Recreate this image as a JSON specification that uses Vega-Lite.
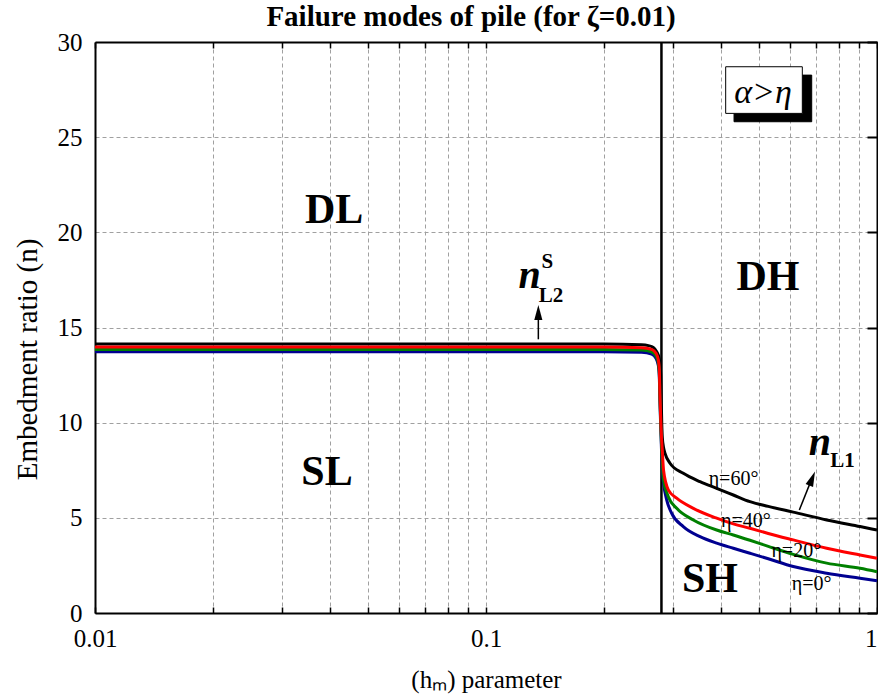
{
  "$schema": "https://vega.github.io/schema/vega-lite/v6.json",
  "width": 782,
  "height": 571,
  "autosize": {"type": "none"},
  "padding": {"left": 95, "top": 42, "right": 1, "bottom": 84},
  "background": "white",
  "title": {"text": "Failure modes of pile (for ζ=0.01)", "fontSize": 29, "fontWeight": "bold", "font": "Liberation Serif", "color": "black", "offset": -2, "dx": -15},
  "config": {"font": "Liberation Serif", "view": {"stroke": null}},
  "resolve": {"axis": {"x": "independent", "y": "independent"}},
  "datasets": {
    "curves": [
      {"eta": "η=60°", "x": 0.01, "n": 14.13}, {"eta": "η=60°", "x": 0.1, "n": 14.13}, {"eta": "η=60°", "x": 0.2, "n": 14.13}, {"eta": "η=60°", "x": 0.25, "n": 14.1}, {"eta": "η=60°", "x": 0.2602, "n": 14.05}, {"eta": "η=60°", "x": 0.2678, "n": 13.95}, {"eta": "η=60°", "x": 0.2732, "n": 13.73}, {"eta": "η=60°", "x": 0.2775, "n": 13.35}, {"eta": "η=60°", "x": 0.2798, "n": 12.5}, {"eta": "η=60°", "x": 0.2808, "n": 11}, {"eta": "η=60°", "x": 0.2815, "n": 10}, {"eta": "η=60°", "x": 0.2825, "n": 9.2}, {"eta": "η=60°", "x": 0.2845, "n": 8.7}, {"eta": "η=60°", "x": 0.287, "n": 8.39}, {"eta": "η=60°", "x": 0.2955, "n": 7.87}, {"eta": "η=60°", "x": 0.3196, "n": 7.34}, {"eta": "η=60°", "x": 0.3527, "n": 6.9}, {"eta": "η=60°", "x": 0.389, "n": 6.55}, {"eta": "η=60°", "x": 0.4291, "n": 6.2}, {"eta": "η=60°", "x": 0.4733, "n": 5.85}, {"eta": "η=60°", "x": 0.5272, "n": 5.6}, {"eta": "η=60°", "x": 0.6107, "n": 5.3}, {"eta": "η=60°", "x": 0.7436, "n": 4.89}, {"eta": "η=60°", "x": 0.9049, "n": 4.54}, {"eta": "η=60°", "x": 1, "n": 4.36},
      {"eta": "η=0°", "x": 0.01, "n": 13.73}, {"eta": "η=0°", "x": 0.2, "n": 13.73}, {"eta": "η=0°", "x": 0.25, "n": 13.7}, {"eta": "η=0°", "x": 0.2653, "n": 13.6}, {"eta": "η=0°", "x": 0.2721, "n": 13.38}, {"eta": "η=0°", "x": 0.2759, "n": 13.0}, {"eta": "η=0°", "x": 0.2775, "n": 12.4}, {"eta": "η=0°", "x": 0.2785, "n": 11.1}, {"eta": "η=0°", "x": 0.28, "n": 9.6}, {"eta": "η=0°", "x": 0.2815, "n": 8.2}, {"eta": "η=0°", "x": 0.283, "n": 7.3}, {"eta": "η=0°", "x": 0.2845, "n": 6.83}, {"eta": "η=0°", "x": 0.2898, "n": 5.94}, {"eta": "η=0°", "x": 0.2985, "n": 5.24}, {"eta": "η=0°", "x": 0.3196, "n": 4.54}, {"eta": "η=0°", "x": 0.3527, "n": 4.01}, {"eta": "η=0°", "x": 0.389, "n": 3.67}, {"eta": "η=0°", "x": 0.4291, "n": 3.4}, {"eta": "η=0°", "x": 0.4733, "n": 3.14}, {"eta": "η=0°", "x": 0.5272, "n": 2.85}, {"eta": "η=0°", "x": 0.6107, "n": 2.44}, {"eta": "η=0°", "x": 0.7436, "n": 2.09}, {"eta": "η=0°", "x": 0.9049, "n": 1.83}, {"eta": "η=0°", "x": 1, "n": 1.7},
      {"eta": "η=20°", "x": 0.01, "n": 13.85}, {"eta": "η=20°", "x": 0.2, "n": 13.85}, {"eta": "η=20°", "x": 0.25, "n": 13.82}, {"eta": "η=20°", "x": 0.2653, "n": 13.72}, {"eta": "η=20°", "x": 0.2721, "n": 13.5}, {"eta": "η=20°", "x": 0.2759, "n": 13.15}, {"eta": "η=20°", "x": 0.2775, "n": 12.6}, {"eta": "η=20°", "x": 0.2785, "n": 11.3}, {"eta": "η=20°", "x": 0.28, "n": 9.8}, {"eta": "η=20°", "x": 0.2815, "n": 8.5}, {"eta": "η=20°", "x": 0.283, "n": 7.6}, {"eta": "η=20°", "x": 0.2845, "n": 6.99}, {"eta": "η=20°", "x": 0.2926, "n": 6.11}, {"eta": "η=20°", "x": 0.3074, "n": 5.5}, {"eta": "η=20°", "x": 0.339, "n": 4.89}, {"eta": "η=20°", "x": 0.389, "n": 4.36}, {"eta": "η=20°", "x": 0.4291, "n": 4.1}, {"eta": "η=20°", "x": 0.4733, "n": 3.82}, {"eta": "η=20°", "x": 0.5272, "n": 3.5}, {"eta": "η=20°", "x": 0.6107, "n": 3.08}, {"eta": "η=20°", "x": 0.7436, "n": 2.62}, {"eta": "η=20°", "x": 0.9049, "n": 2.35}, {"eta": "η=20°", "x": 1, "n": 2.17},
      {"eta": "η=40°", "x": 0.01, "n": 13.97}, {"eta": "η=40°", "x": 0.2, "n": 13.97}, {"eta": "η=40°", "x": 0.25, "n": 13.94}, {"eta": "η=40°", "x": 0.2653, "n": 13.85}, {"eta": "η=40°", "x": 0.2721, "n": 13.65}, {"eta": "η=40°", "x": 0.2759, "n": 13.3}, {"eta": "η=40°", "x": 0.2775, "n": 12.8}, {"eta": "η=40°", "x": 0.2785, "n": 11.5}, {"eta": "η=40°", "x": 0.28, "n": 10}, {"eta": "η=40°", "x": 0.2815, "n": 9}, {"eta": "η=40°", "x": 0.283, "n": 8.2}, {"eta": "η=40°", "x": 0.2845, "n": 7.5}, {"eta": "η=40°", "x": 0.2926, "n": 6.47}, {"eta": "η=40°", "x": 0.3074, "n": 6.03}, {"eta": "η=40°", "x": 0.339, "n": 5.5}, {"eta": "η=40°", "x": 0.389, "n": 4.98}, {"eta": "η=40°", "x": 0.4291, "n": 4.68}, {"eta": "η=40°", "x": 0.4733, "n": 4.45}, {"eta": "η=40°", "x": 0.5272, "n": 4.18}, {"eta": "η=40°", "x": 0.6107, "n": 3.84}, {"eta": "η=40°", "x": 0.7436, "n": 3.4}, {"eta": "η=40°", "x": 0.9049, "n": 3.05}, {"eta": "η=40°", "x": 1, "n": 2.88}
    ],
    "boundary": [{"x": 0.281, "y": 0, "y2": 30}],
    "regions": [
      {"x": 0.04087, "n": 20.47, "label": "DL"},
      {"x": 0.0392, "n": 6.73, "label": "SL"},
      {"x": 0.526, "n": 16.97, "label": "DH"},
      {"x": 0.374, "n": 1.12, "label": "SH"}
    ],
    "etaLabels": [
      {"x": 0.4296, "n": 6.73, "label": "η=60°"},
      {"x": 0.4619, "n": 4.54, "label": "η=40°"},
      {"x": 0.6217, "n": 2.93, "label": "η=20°"},
      {"x": 0.6808, "n": 1.21, "label": "η=0°"}
    ],
    "nSymbols": [
      {"x": 0.1292, "n": 17.07, "label": "n"},
      {"x": 0.7147, "n": 8.3, "label": "n"}
    ],
    "nScripts": [
      {"x": 0.1435, "n": 18.1, "label": "S"},
      {"x": 0.1466, "n": 16.34, "label": "L2"},
      {"x": 0.816, "n": 7.67, "label": "L1"}
    ],
    "box": [
      {"x": 0.4309, "x2": 0.6808, "y": 25.81, "y2": 28.26, "part": "shadow"},
      {"x": 0.4102, "x2": 0.6442, "y": 26.25, "y2": 28.7, "part": "box"}
    ],
    "boxText": [{"x": 0.511, "n": 26.78, "label": "α>η"}],
    "shafts": [
      {"x": 0.1361, "x2": 0.1361, "y": 14.38, "y2": 15.6},
      {"x": 0.6329, "x2": 0.675, "y": 5.41, "y2": 6.85}
    ],
    "headUp": [{"x": 0.1361, "n": 16.18}],
    "headTilt": [{"x": 0.694, "n": 7.43}]
  },
  "layer": [
    {
      "data": {"name": "boundary"},
      "mark": {"type": "rule", "color": "black", "strokeWidth": 2.5},
      "encoding": {
        "x": {"field": "x", "type": "quantitative", "scale": {"type": "log", "domain": [0.01, 1], "nice": false},
          "axis": {"orient": "bottom", "values": [0.01, 0.02, 0.03, 0.04, 0.05, 0.06, 0.07, 0.08, 0.09, 0.1, 0.2, 0.3, 0.4, 0.5, 0.6, 0.7, 0.8, 0.9, 1], "ticks": true, "tickSize": -6, "tickColor": "black", "tickWidth": 1.5, "labels": false, "domain": false, "grid": false, "title": null}},
        "y": {"field": "y", "type": "quantitative", "scale": {"domain": [0, 30], "nice": false},
          "axis": {"orient": "right", "values": [0, 5, 10, 15, 20, 25, 30], "ticks": true, "tickSize": -10, "tickColor": "black", "tickWidth": 2, "labels": false, "domain": true, "domainColor": "black", "domainWidth": 2, "grid": false, "title": null}},
        "y2": {"field": "y2"}
      }
    },
    {
      "data": {"name": "curves"},
      "mark": {"type": "line", "strokeWidth": 3, "interpolate": "monotone"},
      "encoding": {
        "x": {"field": "x", "type": "quantitative", "scale": {"type": "log", "domain": [0.01, 1], "nice": false},
          "axis": {"orient": "bottom", "values": [0.01, 0.02, 0.03, 0.04, 0.05, 0.06, 0.07, 0.08, 0.09, 0.1, 0.2, 0.3, 0.4, 0.5, 0.6, 0.7, 0.8, 0.9, 1],
            "grid": true, "gridColor": "#a0a0a0", "gridDash": [4, 3], "gridWidth": 1, "ticks": false,
            "domain": true, "domainColor": "black", "domainWidth": 2,
            "labelExpr": "datum.value == 0.01 ? '0.01' : datum.value == 0.1 ? '0.1' : datum.value == 1 ? '1' : ''",
            "labelAlign": {"condition": {"test": "datum.value == 1", "value": "right"}, "value": "center"},
            "labelFontSize": 25, "labelColor": "black", "labelPadding": 13, "labelFlush": false, "labelOverlap": false,
            "title": "(hₘ) parameter", "titleFontSize": 25, "titleFontWeight": "normal", "titleColor": "black", "titlePadding": 16}},
        "y": {"field": "n", "type": "quantitative", "scale": {"domain": [0, 30], "nice": false},
          "axis": {"orient": "left", "values": [0, 5, 10, 15, 20, 25, 30], "grid": true, "gridColor": "#a0a0a0", "gridDash": [4, 3], "gridWidth": 1, "ticks": false,
            "domain": true, "domainColor": "black", "domainWidth": 2,
            "labelFontSize": 25, "labelColor": "black", "labelPadding": 13,
            "title": "Embedment ratio (n)", "titleFontSize": 29, "titleFontWeight": "normal", "titleColor": "black", "titlePadding": 15, "titleY": 317}},
        "color": {"field": "eta", "type": "nominal", "scale": {"domain": ["η=0°", "η=20°", "η=40°", "η=60°"], "range": ["#000090", "#008000", "#ff0000", "#000000"]}, "legend": null}
      }
    },
    {
      "data": {"name": "regions"},
      "mark": {"type": "text", "fontSize": 42, "fontWeight": "bold", "align": "center", "baseline": "alphabetic", "color": "black"},
      "encoding": {
        "x": {"field": "x", "type": "quantitative", "scale": {"type": "log", "domain": [0.01, 1], "nice": false}, "axis": null},
        "y": {"field": "n", "type": "quantitative", "scale": {"domain": [0, 30], "nice": false}, "axis": null},
        "text": {"field": "label"}
      }
    },
    {
      "data": {"name": "etaLabels"},
      "mark": {"type": "text", "fontSize": 20, "align": "center", "baseline": "alphabetic", "color": "black"},
      "encoding": {
        "x": {"field": "x", "type": "quantitative", "scale": {"type": "log", "domain": [0.01, 1], "nice": false}, "axis": null},
        "y": {"field": "n", "type": "quantitative", "scale": {"domain": [0, 30], "nice": false}, "axis": null},
        "text": {"field": "label"}
      }
    },
    {
      "data": {"name": "nSymbols"},
      "mark": {"type": "text", "fontSize": 40, "fontWeight": "bold", "fontStyle": "italic", "align": "center", "baseline": "alphabetic", "color": "black"},
      "encoding": {
        "x": {"field": "x", "type": "quantitative", "scale": {"type": "log", "domain": [0.01, 1], "nice": false}, "axis": null},
        "y": {"field": "n", "type": "quantitative", "scale": {"domain": [0, 30], "nice": false}, "axis": null},
        "text": {"field": "label"}
      }
    },
    {
      "data": {"name": "nScripts"},
      "mark": {"type": "text", "fontSize": 21, "fontWeight": "bold", "align": "center", "baseline": "alphabetic", "color": "black"},
      "encoding": {
        "x": {"field": "x", "type": "quantitative", "scale": {"type": "log", "domain": [0.01, 1], "nice": false}, "axis": null},
        "y": {"field": "n", "type": "quantitative", "scale": {"domain": [0, 30], "nice": false}, "axis": null},
        "text": {"field": "label"}
      }
    },
    {
      "data": {"name": "box"},
      "mark": {"type": "rect", "stroke": "black", "strokeWidth": 1},
      "encoding": {
        "x": {"field": "x", "type": "quantitative", "scale": {"type": "log", "domain": [0.01, 1], "nice": false},
          "axis": {"orient": "top", "values": [0.01, 0.02, 0.03, 0.04, 0.05, 0.06, 0.07, 0.08, 0.09, 0.1, 0.2, 0.3, 0.4, 0.5, 0.6, 0.7, 0.8, 0.9, 1], "ticks": true, "tickSize": -6, "tickColor": "black", "tickWidth": 1.5, "labels": false, "domain": true, "domainColor": "black", "domainWidth": 2, "grid": false, "title": null}},
        "x2": {"field": "x2"},
        "y": {"field": "y", "type": "quantitative", "scale": {"domain": [0, 30], "nice": false}, "axis": null},
        "y2": {"field": "y2"},
        "fill": {"field": "part", "type": "nominal", "scale": {"domain": ["shadow", "box"], "range": ["black", "white"]}, "legend": null}
      }
    },
    {
      "data": {"name": "boxText"},
      "mark": {"type": "text", "fontSize": 34, "fontStyle": "italic", "align": "center", "baseline": "alphabetic", "color": "black"},
      "encoding": {
        "x": {"field": "x", "type": "quantitative", "scale": {"type": "log", "domain": [0.01, 1], "nice": false}, "axis": null},
        "y": {"field": "n", "type": "quantitative", "scale": {"domain": [0, 30], "nice": false}, "axis": null},
        "text": {"field": "label"}
      }
    },
    {
      "data": {"name": "shafts"},
      "mark": {"type": "rule", "color": "black", "strokeWidth": 1.5},
      "encoding": {
        "x": {"field": "x", "type": "quantitative", "scale": {"type": "log", "domain": [0.01, 1], "nice": false}, "axis": null},
        "x2": {"field": "x2"},
        "y": {"field": "y", "type": "quantitative", "scale": {"domain": [0, 30], "nice": false}, "axis": null},
        "y2": {"field": "y2"}
      }
    },
    {
      "data": {"name": "headUp"},
      "mark": {"type": "point", "shape": "M0,0L-0.27,1L0.27,1Z", "size": 900, "filled": true, "color": "black", "opacity": 1, "strokeWidth": 0, "angle": 0},
      "encoding": {
        "x": {"field": "x", "type": "quantitative", "scale": {"type": "log", "domain": [0.01, 1], "nice": false}, "axis": null},
        "y": {"field": "n", "type": "quantitative", "scale": {"domain": [0, 30], "nice": false}, "axis": null}
      }
    },
    {
      "data": {"name": "headTilt"},
      "mark": {"type": "point", "shape": "M0,0L-0.27,1L0.27,1Z", "size": 900, "filled": true, "color": "black", "opacity": 1, "strokeWidth": 0, "angle": 22},
      "encoding": {
        "x": {"field": "x", "type": "quantitative", "scale": {"type": "log", "domain": [0.01, 1], "nice": false}, "axis": null},
        "y": {"field": "n", "type": "quantitative", "scale": {"domain": [0, 30], "nice": false}, "axis": null}
      }
    }
  ]
}
